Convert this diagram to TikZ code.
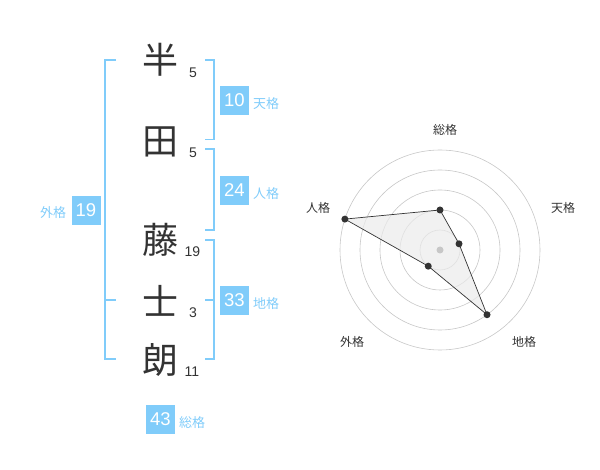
\documentclass[tikz,border=0pt]{standalone}
\usepackage{fontspec}
\setmainfont{Liberation Sans}
\newfontfamily\jfont{Noto Sans CJK JP}
\usepackage{tikz}
\usetikzlibrary{calc}
\definecolor{kakublue}{RGB}{128,204,250}
\definecolor{inkgray}{RGB}{51,51,51}

\begin{document}
\begin{tikzpicture}[x=1pt, y=-1pt,
    kanji/.style={font=\jfont\fontsize{36}{36}\selectfont, text=inkgray, inner sep=0pt},
    strokes/.style={font=\fontsize{14}{14}\selectfont, text=inkgray, inner sep=0pt},
    kakubox/.style={fill=kakublue, text=white, minimum size=29pt, inner sep=0pt, font=\fontsize{18.5}{18.5}\selectfont},
    kakulabel/.style={font=\jfont\fontsize{13}{13}\selectfont, text=kakublue, inner sep=0pt},
    bracket/.style={draw=kakublue, line width=1.6pt},
    ring/.style={draw=black!22, line width=0.6pt},
    axislabel/.style={font=\jfont\fontsize{12}{12}\selectfont, text=inkgray, inner sep=0pt}]

        \useasboundingbox (0,0) rectangle (600,470);

        % name
        \node[kanji] (c1) at (160, 60) {半};
        \node[kanji] (c2) at (160, 142) {田};
        \node[kanji] (c3) at (160, 240) {藤};
        \node[kanji] (c4) at (160, 301) {士};
        \node[kanji] (c5) at (160, 360) {朗};

        \node[strokes] (s1) at (193, 73) {5};
        \node[strokes] (s2) at (193, 153) {5};
        \node[strokes] (s3) at (192.5, 252) {19};
        \node[strokes] (s4) at (193, 313) {3};
        \node[strokes] (s5) at (192, 372) {11};

        % brackets
        \draw[bracket] (116, 60) -- (105, 60) -- (105, 359) -- (116, 359);
        \draw[bracket] (105, 300) -- (116, 300);
        \draw[bracket] (205, 60) -- (214, 60) -- (214, 139.5) -- (205, 139.5);
        \draw[bracket] (205, 149) -- (214, 149) -- (214, 230) -- (205, 230);
        \draw[bracket] (205, 240) -- (214, 240) -- (214, 359) -- (205, 359);
        \draw[bracket] (205, 300) -- (214, 300);

        % totals
        \node[kakubox] (ten) at (234.5, 100.5) {10};
        \node[kakubox] (jin) at (234.5, 190.5) {24};
        \node[kakubox] (gai) at (86, 210.5) {19};
        \node[kakubox] (chi) at (234.5, 300.5) {33};
        \node[kakubox] (sou) at (160.5, 419) {43};

        \node[kakulabel] (tenL) at (266, 104) {天格};
        \node[kakulabel] (jinL) at (266, 194) {人格};
        \node[kakulabel] (gaiL) at (53, 213) {外格};
        \node[kakulabel] (chiL) at (266, 304) {地格};
        \node[kakulabel] (souL) at (192, 423) {総格};

        % radar
        \begin{scope}[shift={(440, 250)}, yscale=-1]
            \foreach \r in {20, 40, ..., 100}
                \draw[ring] (0,0) circle[radius=\r];

            \coordinate (pSou) at (90:40);
            \coordinate (pTen) at (18:20);
            \coordinate (pChi) at (-54:80);
            \coordinate (pGai) at (-126:20);
            \coordinate (pJin) at (162:100);

            \draw[fill=black!8, fill opacity=0.7, draw=inkgray, line width=0.7pt]
                (pSou) -- (pTen) -- (pChi) -- (pGai) -- (pJin) -- cycle;
            \fill[black!22] (0,0) circle[radius=3.5];
            \foreach \p in {pSou, pTen, pChi, pGai, pJin}
                \fill[inkgray] (\p) circle[radius=3.5];
        \end{scope}

        \node[axislabel] (aSou) at (445, 130) {総格};
        \node[axislabel] (aTen) at (563, 208) {天格};
        \node[axislabel] (aJin) at (318, 208) {人格};
        \node[axislabel] (aGai) at (352, 342) {外格};
        \node[axislabel] (aChi) at (524, 342) {地格};
\end{tikzpicture}
\end{document}
